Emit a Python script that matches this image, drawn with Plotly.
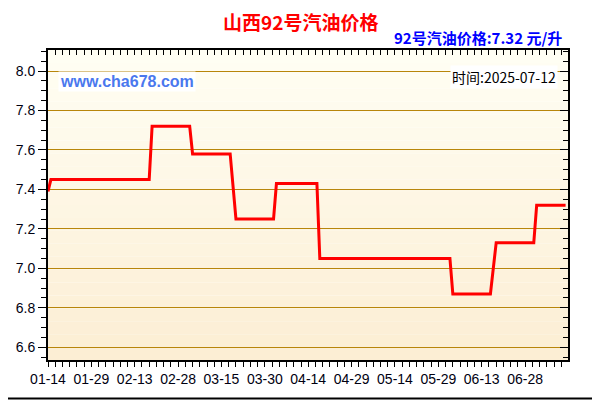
import plotly.graph_objs as go
import pandas as pd

# price change points (corners of the step line)
dates = ["2025-01-14", "2025-01-15", "2025-02-18", "2025-02-19", "2025-03-04",
         "2025-03-05", "2025-03-18", "2025-03-20", "2025-04-02", "2025-04-03",
         "2025-04-17", "2025-04-18", "2025-06-02", "2025-06-03", "2025-06-16",
         "2025-06-18", "2025-07-01", "2025-07-02", "2025-07-12"]
prices = [7.39, 7.45, 7.45, 7.72, 7.72,
          7.58, 7.58, 7.25, 7.25, 7.43,
          7.43, 7.05, 7.05, 6.87, 6.87,
          7.13, 7.13, 7.32, 7.32]

title_text = "山西92号汽油价格"
price_text = "92号汽油价格:7.32 元/升"
date_text = "时间:2025-07-12"
site_text = "www.cha678.com"

DAY = 86400000
x_range = ["2025-01-14", "2025-07-12 20:00"]
y_range = [6.535, 8.107]

df = pd.DataFrame({"date": pd.to_datetime(dates), "price": prices})

fig = go.Figure()
fig.add_trace(go.Scatter(x=df["date"], y=df["price"], mode="lines",
                         line=dict(color="#FF0000", width=3), hoverinfo="skip"))
# same data on the mirrored axes so the top/right ticks get drawn
fig.add_trace(go.Scatter(x=df["date"], y=df["price"], mode="lines",
                         xaxis="x2", yaxis="y2", opacity=0,
                         line=dict(width=0), hoverinfo="skip"))

# the page body adds an 8px offset, so the figure is 8px smaller than the window
W, H = 592, 392
ML, MR, MT, MB = 40, 32, 42, 40
PW, PH = W - ML - MR, H - MT - MB

# cream vertical gradient behind the plot
top = (255, 254, 243)
bot = (252, 238, 212)
n = 24
shapes = []
for i in range(n):
    t = i / (n - 1)
    c = tuple(round(bot[k] + (top[k] - bot[k]) * t) for k in range(3))
    shapes.append(dict(type="rect", xref="paper", yref="paper", x0=0, x1=1,
                       y0=i / n, y1=(i + 1) / n, layer="below",
                       line=dict(width=0), fillcolor="rgb(%d,%d,%d)" % c))
# right and bottom edges of the picture frame
fx = (W - 1.5 - ML) / PW
fy = -(H - 1.5 - (MT + PH)) / PH
shapes.append(dict(type="line", xref="paper", yref="paper", x0=fx, x1=fx,
                   y0=fy, y1=(MT + PH) / PH, line=dict(color="black", width=2)))
shapes.append(dict(type="line", xref="paper", yref="paper", x0=-ML / PW, x1=fx,
                   y0=fy, y1=fy, line=dict(color="black", width=2)))

tick_font = dict(family="Liberation Sans, Arial", size=14, color="#000011")

fig.update_layout(
    width=W, height=H,
    margin=dict(l=ML, r=MR, t=MT, b=MB),
    paper_bgcolor="white", plot_bgcolor="rgba(0,0,0,0)",
    showlegend=False,
    shapes=shapes,
    xaxis=dict(type="date", range=x_range, tick0="2025-01-14", dtick=15 * DAY,
               tickformat="%m-%d", ticks="outside", ticklen=5, tickcolor="black",
               tickfont=tick_font, showgrid=False, zeroline=False, automargin=False,
               showline=True, linecolor="black", linewidth=2, mirror=True,
               minor=dict(tick0="2025-01-14", dtick=2.5 * DAY, ticks="outside",
                          ticklen=5, tickcolor="black", showgrid=False)),
    yaxis=dict(range=y_range, tick0=6.6, dtick=0.2, tickformat=".1f",
               ticks="outside", ticklen=8, tickcolor="black", tickfont=tick_font,
               showgrid=True, gridcolor="#B8860B", gridwidth=1, zeroline=False,
               automargin=False,
               showline=True, linecolor="black", linewidth=2, mirror=True,
               minor=dict(dtick=0.05, ticks="outside", ticklen=5,
                          tickcolor="black", showgrid=False)),
    xaxis2=dict(type="date", overlaying="x", matches="x", side="top",
                anchor="y2", showticklabels=False, ticks="inside", ticklen=5,
                tick0="2025-01-14", dtick=2.5 * DAY, tickcolor="black",
                showgrid=False, zeroline=False, showline=False, automargin=False),
    yaxis2=dict(overlaying="y", matches="y", side="right", anchor="x2",
                showticklabels=False, ticks="inside", ticklen=8, tick0=6.6,
                dtick=0.2, tickcolor="black", showgrid=False, zeroline=False,
                showline=False, automargin=False,
                minor=dict(dtick=0.05, ticks="inside", ticklen=5,
                           tickcolor="black", showgrid=False)),
)

# title as a paper annotation, centred over the window
fig.add_annotation(text="<b>%s</b>" % title_text, xref="paper", yref="paper",
                   x=(292 - ML) / PW, y=(MT + PH - 13) / PH,
                   xanchor="center", yanchor="middle", showarrow=False,
                   font=dict(family="Noto Sans CJK SC", size=19, color="#FF0000"))
fig.add_annotation(text=price_text, xref="paper", yref="paper",
                   x=0.992, y=(360 - 38) / 310, xanchor="right", yanchor="middle",
                   showarrow=False,
                   font=dict(family="Noto Sans CJK SC", size=15, color="#0000FF",
                             weight="bold"))
fig.add_annotation(text=date_text, xref="paper", yref="paper",
                   x=0.981, y=(360 - 77) / 310, xanchor="right", yanchor="middle",
                   showarrow=False, bgcolor="white", borderpad=1,
                   font=dict(family="Noto Sans CJK SC", size=14, color="black"))
fig.add_annotation(text=site_text, xref="paper", yref="paper",
                   x=0.019, y=(360 - 81) / 310, xanchor="left", yanchor="middle",
                   showarrow=False, bgcolor="white", borderpad=1,
                   font=dict(family="Liberation Sans, Arial", size=16,
                             color="#4A78EE", weight="bold"))

fig.write_html("out.html")
